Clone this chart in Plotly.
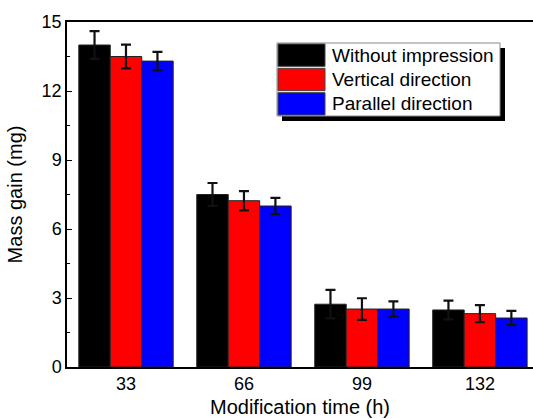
import plotly.graph_objects as go

categories = ["33", "66", "99", "132"]
series_names = ["Without impression", "Vertical direction", "Parallel direction"]
colors = ["#000000", "#ff0000", "#0000ff"]
values = [
    [14.0, 7.5, 2.73, 2.48],
    [13.5, 7.23, 2.52, 2.32],
    [13.3, 7.0, 2.52, 2.13],
]
errors = [
    [0.6, 0.5, 0.62, 0.41],
    [0.52, 0.42, 0.47, 0.37],
    [0.4, 0.35, 0.33, 0.31],
]
y_ticks = [0, 3, 6, 9, 12, 15]

W, H = 533, 419
L, R, T, B = 67, 533, 22, 367

fig = go.Figure()
for name, col, v, e in zip(series_names, colors, values, errors):
    fig.add_trace(go.Bar(
        x=categories, y=v, name=name,
        marker=dict(color=col, line=dict(color="#222222", width=1)),
        error_y=dict(type="data", array=e, visible=True, color="#111111",
                     thickness=2.2, width=5),
        showlegend=False,
    ))

def px(x):
    return (x - L) / (R - L)

def py(y):
    return (B - y) / (B - T)

shapes = []
# legend shadow and box
lx0, lx1, ly0, ly1 = 277, 500, 43, 116
shapes.append(dict(type="rect", xref="paper", yref="paper",
                   x0=px(lx0 + 5), x1=px(lx1 + 5), y0=py(ly0 + 5), y1=py(ly1 + 5),
                   fillcolor="#000000", line=dict(width=0)))
shapes.append(dict(type="rect", xref="paper", yref="paper",
                   x0=px(lx0), x1=px(lx1), y0=py(ly0), y1=py(ly1),
                   fillcolor="#ffffff", line=dict(color="#888888", width=1)))
annotations = []
row_h = (ly1 - ly0) / 3
for i, (name, col) in enumerate(zip(series_names, colors)):
    y0 = ly0 + i * row_h + 1
    y1 = ly0 + (i + 1) * row_h - 1
    shapes.append(dict(type="rect", xref="paper", yref="paper",
                       x0=px(lx0 + 1), x1=px(325), y0=py(y0), y1=py(y1),
                       fillcolor=col, line=dict(color="#444444", width=1)))
    annotations.append(dict(xref="paper", yref="paper", x=px(330), y=py((y0 + y1) / 2),
                            text=name, showarrow=False, xanchor="left", yanchor="middle",
                            font=dict(size=19, color="#000000", family="Liberation Sans, Arial")))

fig.update_layout(
    width=W, height=H,
    margin=dict(l=L, r=W - R, t=T, b=H - B),
    paper_bgcolor="white", plot_bgcolor="white",
    barmode="group", bargap=0.2, bargroupgap=0.0,
    font=dict(family="Liberation Sans, Arial", color="#000000", size=18),
    shapes=shapes, annotations=annotations,
    xaxis=dict(
        range=[-0.5, 3.45], showline=True, linecolor="#000000", linewidth=1.5,
        mirror=True, ticks="", showgrid=False, zeroline=False,
        title=dict(text="Modification time (h)", font=dict(size=20), standoff=7),
        tickfont=dict(size=18),
    ),
    yaxis=dict(
        range=[0, 15], tickvals=y_ticks, showline=True, linecolor="#000000", linewidth=1.5,
        mirror=False, ticks="inside", ticklen=5, tickwidth=1.2, tickcolor="#000000",
        minor=dict(ticks="inside", ticklen=3, tickcolor="#000000", dtick=1.5, tickwidth=1),
        showgrid=False, zeroline=False,
        title=dict(text="Mass gain (mg)", font=dict(size=20), standoff=14),
        tickfont=dict(size=18),
    ),
)

fig.write_html("out.html")
